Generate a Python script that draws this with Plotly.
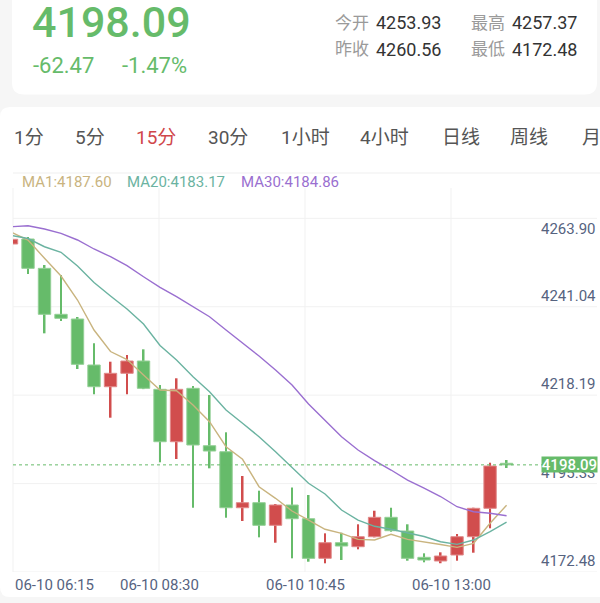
import numpy as np
import plotly.graph_objects as go

# ---------------- data ----------------
times = ["06-10 06:15", "06-10 06:30", "06-10 06:45", "06-10 07:00", "06-10 07:15",
         "06-10 07:30", "06-10 07:45", "06-10 08:00", "06-10 08:15", "06-10 08:30",
         "06-10 08:45", "06-10 09:00", "06-10 09:15", "06-10 09:30", "06-10 09:45",
         "06-10 10:00", "06-10 10:15", "06-10 10:30", "06-10 10:45", "06-10 11:00",
         "06-10 11:15", "06-10 11:30", "06-10 11:45", "06-10 12:00", "06-10 12:15",
         "06-10 12:30", "06-10 12:45", "06-10 13:00", "06-10 13:15", "06-10 13:30",
         "06-10 13:45"]
open_prices = [4255.55, 4256.85, 4249.22, 4237.26, 4236.03, 4224.07, 4218.42, 4221.91,
               4225.11, 4217.75, 4204.11, 4218.01, 4203.07, 4201.51, 4186.94, 4188.25,
               4182.37, 4187.65, 4184.08, 4173.78, 4177.84, 4176.80, 4179.40, 4184.45,
               4180.88, 4174.04, 4173.08, 4174.64, 4179.40, 4186.79, 4198.50]
close_prices = [4256.77, 4249.22, 4237.26, 4236.22, 4224.25, 4218.42, 4221.91, 4225.11,
                4218.01, 4204.11, 4217.75, 4203.26, 4201.69, 4186.94, 4188.25, 4182.37,
                4187.65, 4184.08, 4173.78, 4177.84, 4176.98, 4179.40, 4184.45, 4180.96,
                4173.78, 4173.34, 4174.38, 4179.40, 4186.79, 4197.79, 4198.09]
high_prices = [4256.90, 4257.37, 4250.08, 4247.48, 4236.56, 4229.71, 4224.93, 4226.67,
               4228.15, 4218.86, 4220.61, 4218.60, 4216.26, 4206.56, 4195.19, 4191.37,
               4187.91, 4192.20, 4190.25, 4180.28, 4180.44, 4182.63, 4186.16, 4186.94,
               4182.63, 4175.08, 4175.34, 4180.10, 4186.94, 4198.65, 4199.35]
low_prices = [4255.40, 4247.74, 4232.31, 4235.51, 4223.03, 4216.45, 4210.36, 4216.45,
              4217.80, 4198.76, 4199.61, 4186.94, 4197.19, 4184.34, 4183.48, 4179.24,
              4177.84, 4173.78, 4172.90, 4172.48, 4173.34, 4176.12, 4179.24, 4180.70,
              4173.16, 4172.74, 4172.50, 4173.16, 4175.24, 4181.59, 4197.27]
ma1 = [4258.59, 4256.59, 4251.83, 4247.22, 4240.98, 4233.17, 4227.58, 4225.50, 4221.47,
       4217.56, 4217.38, 4213.66, 4209.32, 4202.81, 4199.54, 4192.41, 4189.39, 4186.09,
       4183.74, 4181.33, 4180.28, 4178.72, 4178.54, 4180.02, 4178.72, 4178.10, 4177.37,
       4176.64, 4177.68, 4182.89, 4187.60]
ma20 = [4257.76, 4256.98, 4254.84, 4253.39, 4249.82, 4245.53, 4242.02, 4238.64, 4234.73,
        4229.14, 4225.37, 4221.02, 4217.12, 4212.36, 4208.90, 4205.42, 4201.51, 4197.27,
        4193.29, 4190.51, 4186.35, 4183.74, 4182.11, 4181.33, 4180.44, 4179.45, 4178.10,
        4177.42, 4178.54, 4180.70, 4183.17]
ma30 = [4260.05, 4260.31, 4259.45, 4258.33, 4256.59, 4254.25, 4252.24, 4249.90, 4247.04,
        4244.28, 4241.84, 4239.23, 4236.63, 4233.17, 4229.79, 4226.41, 4222.77, 4218.86,
        4213.92, 4209.76, 4205.42, 4201.96, 4199.22, 4196.75, 4194.15, 4192.07, 4189.86,
        4187.20, 4185.90, 4185.49, 4184.86]
y_tick_labels = ["4263.90", "4241.04", "4218.19", "4195.33", "4172.48"]
x_label_index = [0, 9, 18, 27]
tabs = ["1分", "5分", "15分", "30分", "1小时", "4小时", "日线", "周线", "月"]
active_tab = "15分"
last_price = 4198.09
change_abs = "-62.47"
change_pct = "-1.47%"
stats = [("今开", "4253.93"), ("最高", "4257.37"), ("昨收", "4260.56"), ("最低", "4172.48")]

# ---------------- layout geometry ----------------
W, H = 600, 603
ML, MR, MT, MB = 13, 3, 173, 31
PW, PH = W - ML - MR, H - MT - MB


def X(px):
    return (px - ML) / PW


def Y(py):
    return (H - MB - py) / PH


Y_RANGE = [4170.22, 4274.02]
X_RANGE = [0.091, 35.48]
grid_vals = np.linspace(Y_RANGE[0], 4262.23, 5)[::-1]

GREEN, RED = "#66bb6a", "#d14d4d"
GREEN_EDGE, RED_EDGE = "#93cf95", "#e08a8a"
TAN, TEAL, PURPLE = "#c9b47f", "#6bb3a1", "#9a6fd0"
AXIS_TXT = "#56637f"
FONT = "Roboto, 'Noto Sans CJK SC', sans-serif"

o = np.array(open_prices)
c = np.array(close_prices)
h = np.array(high_prices)
lo = np.array(low_prices)
idx = list(range(len(times)))
cols = [RED if cc >= oo else GREEN for oo, cc in zip(o, c)]
edges = [RED_EDGE if cc >= oo else GREEN_EDGE for oo, cc in zip(o, c)]

fig = go.Figure()
fig.add_trace(go.Bar(x=idx, base=lo, y=h - lo, width=0.12,
                     marker=dict(color=cols, line=dict(width=0)), hoverinfo="skip"))
fig.add_trace(go.Bar(x=idx, base=np.minimum(o, c), y=np.abs(c - o), width=0.75,
                     marker=dict(color=cols, line=dict(color=edges, width=1)), hoverinfo="skip"))
for series, col in [(ma1, TAN), (ma20, TEAL), (ma30, PURPLE)]:
    fig.add_trace(go.Scatter(x=idx, y=series, mode="lines",
                             line=dict(color=col, width=1.4), hoverinfo="skip"))


def rrect_path(x0, y0, x1, y1, r):
    X0, X1 = x0 - ML, x1 - ML
    Yt, Yb = (H - MB) - y0, (H - MB) - y1
    return (f"M {X0 + r},{Yt} L {X1 - r},{Yt} Q {X1},{Yt} {X1},{Yt - r} "
            f"L {X1},{Yb + r} Q {X1},{Yb} {X1 - r},{Yb} L {X0 + r},{Yb} "
            f"Q {X0},{Yb} {X0},{Yb + r} L {X0},{Yt - r} Q {X0},{Yt} {X0 + r},{Yt} Z")


shapes = []
# cards
for (x0, y0, x1, y1, r) in [(12, -20, 597, 94.5, 12), (0, 107, 620, 597, 10)]:
    shapes.append(dict(type="path", xref="paper", yref="paper", xsizemode="pixel",
                       ysizemode="pixel", xanchor=0, yanchor=0,
                       path=rrect_path(x0, y0, x1, y1, r),
                       fillcolor="white", line=dict(width=0), layer="below"))
# separator under tabs
shapes.append(dict(type="line", xref="paper", yref="paper", x0=X(13), x1=X(600),
                   y0=Y(173), y1=Y(173), line=dict(color="#efefef", width=1), layer="below"))
# horizontal grid
for gv in grid_vals:
    shapes.append(dict(type="line", xref="paper", yref="y", x0=0, x1=1, y0=gv, y1=gv,
                       line=dict(color="#f1f1f1", width=1), layer="below"))
# vertical grid
for fx in [0, 0.25, 0.5, 0.75]:
    shapes.append(dict(type="line", xref="paper", yref="paper", x0=fx, x1=fx,
                       y0=0, y1=Y(188), line=dict(color="#f1f1f1", width=1), layer="below"))
# last price dotted line
shapes.append(dict(type="line", xref="paper", yref="y", x0=0, x1=X(543),
                   y0=last_price, y1=last_price,
                   line=dict(color=GREEN, width=1, dash="dot"), layer="above"))

ann = []


def txt(text, px, py, size, color, xanchor="left", yanchor="middle", weight=None, **kw):
    f = dict(family=FONT, size=size, color=color)
    if weight:
        f["weight"] = weight
    ann.append(dict(text=text, x=X(px), y=Y(py), xref="paper", yref="paper",
                    xanchor=xanchor, yanchor=yanchor, showarrow=False, font=f, **kw))


# header
txt(f"{last_price:.2f}", 30, 22, 43, GREEN, weight=500)
txt(change_abs, 31, 66, 22, GREEN)
txt(change_pct, 120, 66, 22, GREEN)
pos = [(333, 374, 23), (469, 510, 23), (333, 374, 49), (469, 510, 49)]
for (lab, val), (lx, vx, yy) in zip(stats, pos):
    txt(lab, lx, yy, 17, "#9a9a9a")
    txt(val, vx, yy, 18, "#333333")

# tabs
tab_x = [12, 73, 134, 206, 279, 358, 440, 508, 580]
for t, tx in zip(tabs, tab_x):
    txt(t, tx, 138, 19, "#d0474a" if t == active_tab else "#555555")

# MA legend
txt(f"MA1:{ma1[-1]:.2f}", 20, 182, 15, TAN)
txt(f"MA20:{ma20[-1]:.2f}", 125, 182, 15, TEAL)
txt(f"MA30:{ma30[-1]:.2f}", 239, 182, 15, PURPLE)

# y labels
for i, (gv, lab) in enumerate(zip(grid_vals, y_tick_labels)):
    ann.append(dict(text=lab, x=X(598), y=gv, xref="paper", yref="y", xanchor="right",
                    yanchor="top" if i == 0 else "bottom", showarrow=False,
                    font=dict(family=FONT, size=15, color=AXIS_TXT)))

# x labels
for fx, k in zip([0, 0.25, 0.5, 0.75], x_label_index):
    ann.append(dict(text=times[k], x=fx, y=Y(585), xref="paper", yref="paper",
                    xanchor="left" if fx == 0 else "center", yanchor="middle",
                    showarrow=False, font=dict(family=FONT, size=15, color=AXIS_TXT)))

# last price tag
ann.append(dict(text=f"{last_price:.2f}", x=X(598), y=last_price, xref="paper", yref="y",
                xanchor="right", yanchor="middle", showarrow=False, bgcolor=GREEN,
                width=55, height=15, borderpad=0, align="center",
                font=dict(family=FONT, size=15, color="white", weight=500)))

fig.update_layout(
    width=W, height=H, margin=dict(l=ML, r=MR, t=MT, b=MB, pad=0),
    paper_bgcolor="#f6f6f6", plot_bgcolor="rgba(0,0,0,0)",
    barmode="overlay", showlegend=False, hovermode=False,
    xaxis=dict(range=X_RANGE, showgrid=False, zeroline=False, showticklabels=False,
               showline=False, fixedrange=True),
    yaxis=dict(range=Y_RANGE, showgrid=False, zeroline=False, showticklabels=False,
               showline=False, fixedrange=True),
    shapes=shapes, annotations=ann,
)
fig.write_html("out.html", config={"displayModeBar": False},
               post_script="document.body.style.margin='0px';document.body.style.overflow='hidden';")
